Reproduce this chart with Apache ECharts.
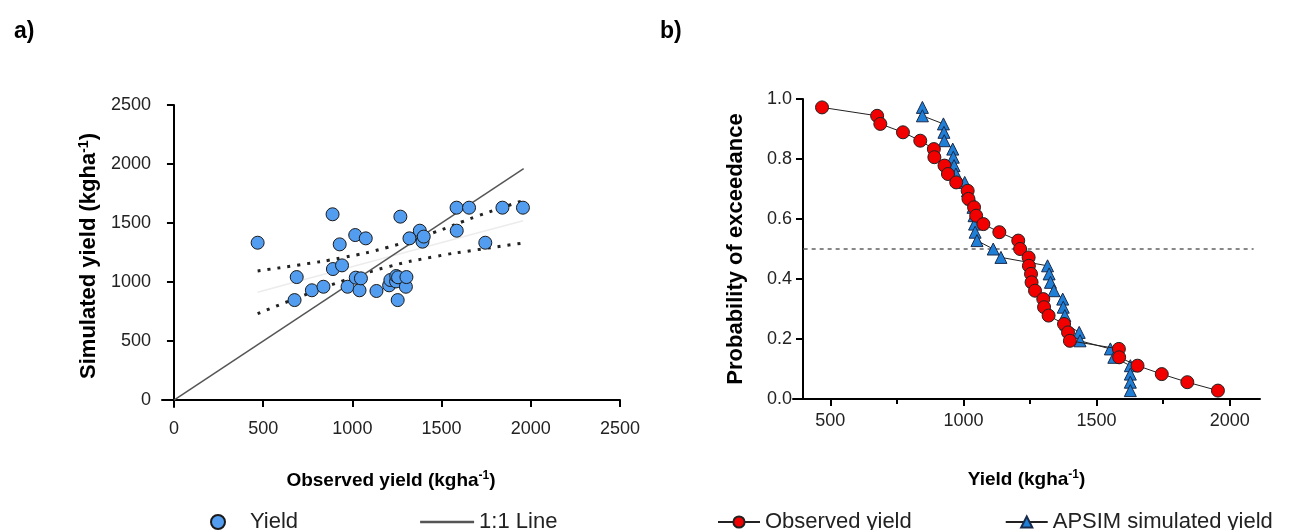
<!DOCTYPE html>
<html><head><meta charset="utf-8">
<script src="https://cdn.jsdelivr.net/npm/echarts@6/dist/echarts.min.js"></script>
<style>html,body{margin:0;padding:0;background:#fff}#c{width:1301px;height:530px}</style>
</head><body><div id="c"></div>
<script>
// ---- panel a) scatter: observed vs simulated yield ----
const obsYield = [469, 676, 688, 773, 838, 889, 891, 929, 942, 973, 1016, 1019, 1040, 1048, 1075, 1135, 1206, 1213, 1245, 1246, 1254, 1256, 1269, 1300, 1303, 1320, 1378, 1393, 1400, 1584, 1585, 1654, 1745, 1841, 1956];
const simYield = [1333, 847, 1042, 930, 960, 1574, 1110, 1319, 1141, 960, 1398, 1037, 930, 1031, 1370, 924, 972, 1017, 1005, 1051, 847, 1040, 1554, 960, 1042, 1370, 1435, 1342, 1385, 1630, 1435, 1630, 1333, 1630, 1630];
const oneToOne = [0, 1960];
const fitX = [469, 700, 950, 1200, 1450, 1700, 1957];
const fitY = [913, 1008, 1110, 1212, 1314, 1416, 1520];
const bandUpper = [1094, 1145, 1208, 1295, 1416, 1558, 1690];
const bandLower = [732, 871, 1012, 1129, 1212, 1274, 1330];
const scatterTicks = [0, 500, 1000, 1500, 2000, 2500];

// ---- panel b) probability of exceedance ----
const obsSorted = [469, 676, 688, 773, 838, 889, 891, 929, 942, 973, 1016, 1019, 1040, 1048, 1075, 1135, 1206, 1213, 1245, 1246, 1254, 1256, 1269, 1300, 1303, 1320, 1378, 1393, 1400, 1584, 1585, 1654, 1745, 1841, 1956];
const simSorted = [846, 846, 925, 927, 928, 960, 962, 965, 972, 1005, 1015, 1030, 1036, 1040, 1042, 1044, 1051, 1112, 1141, 1316, 1322, 1327, 1340, 1373, 1375, 1381, 1385, 1435, 1438, 1552, 1565, 1627, 1627, 1627, 1627];
const exceedProb = [0.972, 0.944, 0.917, 0.889, 0.861, 0.833, 0.806, 0.778, 0.750, 0.722, 0.694, 0.667, 0.639, 0.611, 0.583, 0.556, 0.528, 0.500, 0.472, 0.444, 0.417, 0.389, 0.361, 0.333, 0.306, 0.278, 0.250, 0.222, 0.194, 0.167, 0.139, 0.111, 0.083, 0.056, 0.028];
const yieldTicks = [500, 1000, 1500, 2000];
const yieldMinorTicks = [750, 1250, 1750];
const refProb = 0.5;
const refRange = [400, 2090];

const FONT = 'Liberation Sans, Arial, sans-serif';
const axisLineStyle = { color: '#000', width: 2 };
const tickStyle = { color: '#000', width: 2 };
const labelStyle = { fontFamily: FONT, fontSize: 18, color: '#222' };
const plain = v => String(v);
const richX = {
  b: { fontFamily: FONT, fontSize: 19, fontWeight: 'bold', color: '#000' },
  s: { fontFamily: FONT, fontSize: 12, fontWeight: 'bold', color: '#000', padding: [0, 0, 9, 0] }
};
const richY = {
  b: { fontFamily: FONT, fontSize: 22, fontWeight: 'bold', color: '#000' },
  s: { fontFamily: FONT, fontSize: 14, fontWeight: 'bold', color: '#000', padding: [0, 0, 10, 0] }
};

const chart = echarts.init(document.getElementById('c'), null, { renderer: 'canvas' });
chart.setOption({
  animation: false,
  backgroundColor: '#fff',
  title: [
    { text: 'a)', left: 9, top: 15, textStyle: { fontFamily: FONT, fontSize: 23, fontWeight: 'bold', color: '#000' } },
    { text: 'b)', left: 655, top: 15, textStyle: { fontFamily: FONT, fontSize: 23, fontWeight: 'bold', color: '#000' } }
  ],
  grid: [
    { left: 162, top: 105, width: 458, height: 302 },
    { left: 793, top: 99, width: 467, height: 300 }
  ],
  legend: [
    { data: ['Yield', { name: '1:1 Line', icon: 'path://M0,0L40,0L40,2L0,2Z' }], left: 205, top: 506, itemGap: 122, itemWidth: 54, itemHeight: 14,
      textStyle: { fontFamily: FONT, fontSize: 22, color: '#222' } },
    { data: ['Observed yield', 'APSIM simulated yield'], left: 712, top: 506, itemGap: 93, itemWidth: 42, itemHeight: 14,
      textStyle: { fontFamily: FONT, fontSize: 22, color: '#222' } }
  ],
  xAxis: [
    { type: 'value', gridIndex: 0, min: -67, max: 2500,
      axisLine: { onZero: true, lineStyle: axisLineStyle },
      axisTick: { customValues: scatterTicks, length: 7, lineStyle: tickStyle },
      axisLabel: { customValues: scatterTicks, margin: 13, formatter: plain, ...labelStyle },
      splitLine: { show: false },
      name: '{b|Observed yield (kgha}{s|-1}{b|)}', nameLocation: 'middle', nameGap: 63, nameMoveOverlap: false,
      nameTextStyle: { rich: richX } },
    { type: 'value', gridIndex: 1, min: 360, max: 2114,
      axisLine: { lineStyle: axisLineStyle },
      axisTick: { customValues: yieldTicks, length: 7, lineStyle: tickStyle },
      axisLabel: { customValues: yieldTicks, margin: 13, formatter: plain, ...labelStyle },
      splitLine: { show: false },
      name: '{b|Yield (kgha}{s|-1}{b|)}', nameLocation: 'middle', nameGap: 70, nameMoveOverlap: false,
      nameTextStyle: { rich: richX } },
    { type: 'value', gridIndex: 1, min: 360, max: 2114, position: 'bottom',
      axisLine: { show: false, onZero: false },
      axisTick: { customValues: yieldMinorTicks, length: 5, lineStyle: tickStyle },
      axisLabel: { show: false }, splitLine: { show: false } }
  ],
  yAxis: [
    { type: 'value', gridIndex: 0, min: -59, max: 2500,
      axisLine: { onZero: true, lineStyle: axisLineStyle },
      axisTick: { customValues: scatterTicks, length: 7, lineStyle: tickStyle },
      axisLabel: { customValues: scatterTicks, margin: 11, formatter: plain, ...labelStyle },
      splitLine: { show: false },
      name: '{b|Simulated yield (kgha}{s|-1}{b|)}', nameLocation: 'middle', nameGap: 61, nameMoveOverlap: false,
      nameTextStyle: { rich: richY } },
    { type: 'value', gridIndex: 1, min: 0, max: 1, interval: 0.2, offset: -10,
      axisLine: { lineStyle: axisLineStyle },
      axisTick: { length: 7, lineStyle: tickStyle },
      axisLabel: { margin: 11, formatter: v => v.toFixed(1), ...labelStyle },
      splitLine: { show: false },
      name: '{b|Probability of exceedance}', nameLocation: 'middle', nameGap: 56, nameMoveOverlap: false,
      nameTextStyle: { rich: richY } }
  ],
  series: [
    { name: 'Fit', type: 'line', xAxisIndex: 0, yAxisIndex: 0, smooth: true, symbol: 'none',
      lineStyle: { color: '#ececec', width: 1.5 }, data: fitX.map((x, i) => [x, fitY[i]]), z: 1 },
    { name: 'Upper', type: 'line', xAxisIndex: 0, yAxisIndex: 0, smooth: true, symbol: 'none',
      lineStyle: { color: '#222', width: 3, type: [3, 7] }, data: fitX.map((x, i) => [x, bandUpper[i]]), z: 2 },
    { name: 'Lower', type: 'line', xAxisIndex: 0, yAxisIndex: 0, smooth: true, symbol: 'none',
      lineStyle: { color: '#222', width: 3, type: [3, 7] }, data: fitX.map((x, i) => [x, bandLower[i]]), z: 2 },
    { name: '1:1 Line', type: 'line', xAxisIndex: 0, yAxisIndex: 0, symbol: 'none',
      lineStyle: { color: '#555', width: 1.5 }, itemStyle: { color: '#555' },
      data: [[oneToOne[0], oneToOne[0]], [oneToOne[1], oneToOne[1]]], z: 3 },
    { name: 'Yield', type: 'scatter', xAxisIndex: 0, yAxisIndex: 0, symbol: 'circle', symbolSize: 13,
      itemStyle: { color: '#539df0', borderColor: '#1a1a1a', borderWidth: 1, opacity: 1 },
      data: obsYield.map((x, i) => [x, simYield[i]]), z: 4 },

    { name: 'Ref', type: 'line', xAxisIndex: 1, yAxisIndex: 1, symbol: 'none',
      lineStyle: { color: '#888', width: 2, type: [4, 4] },
      data: [[refRange[0], refProb], [refRange[1], refProb]], z: 1 },
    { name: 'APSIM simulated yield', type: 'line', xAxisIndex: 1, yAxisIndex: 1, symbol: 'triangle', symbolSize: 12,
      lineStyle: { color: '#222', width: 1 },
      itemStyle: { color: '#1f7fd6', borderColor: '#1a2a4a', borderWidth: 1 },
      data: simSorted.map((x, i) => [x, exceedProb[i]]), z: 3 },
    { name: 'Observed yield', type: 'line', xAxisIndex: 1, yAxisIndex: 1, symbol: 'circle', symbolSize: 13,
      lineStyle: { color: '#222', width: 1 },
      itemStyle: { color: '#f20000', borderColor: '#222', borderWidth: 1 },
      data: obsSorted.map((x, i) => [x, exceedProb[i]]), z: 4 }
  ]
});
</script></body></html>
